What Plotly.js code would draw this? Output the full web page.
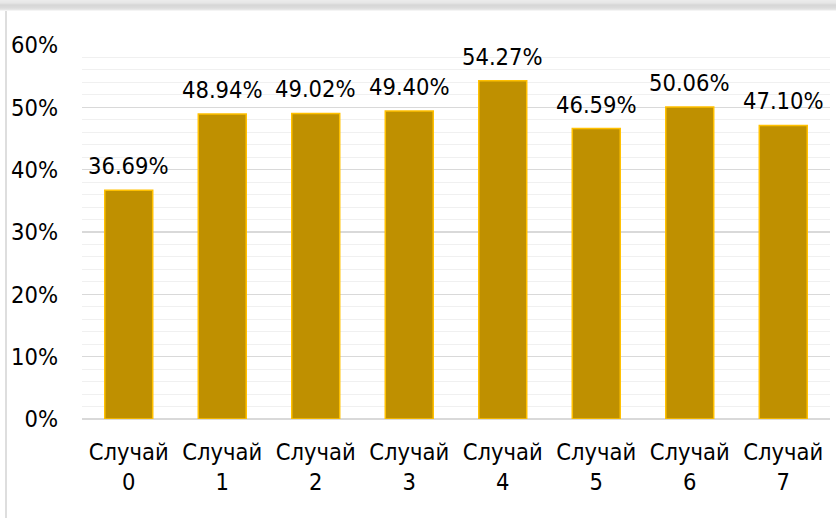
<!DOCTYPE html>
<html>
<head>
<meta charset="utf-8">
<script src="https://cdn.plot.ly/plotly-3.0.1.min.js"></script>
<style>
  html, body { margin: 0; padding: 0; background: #ffffff; }
  #wrap { position: relative; width: 836px; height: 518px; overflow: hidden; background: #ffffff; }
  #topshade { position: absolute; left: 0; top: 0; width: 836px; height: 11px;
    background: linear-gradient(to bottom, #ececec 0px, #e6e6e6 3px, #d6d6d6 5px, #dcdcdc 8px, #e9e9e9 10px, #ffffff 11px); }
  #leftline { position: absolute; left: 5px; top: 11px; width: 2px; height: 507px; background: #dedede; }
  #chart { position: absolute; left: 0; top: 0; width: 836px; height: 518px; }
</style>
</head>
<body>
<div id="wrap">
  <div id="topshade"></div>
  <div id="leftline"></div>
  <div id="chart"></div>
</div>
<script>
const categories = ["Случай<br>0", "Случай<br>1", "Случай<br>2", "Случай<br>3",
                    "Случай<br>4", "Случай<br>5", "Случай<br>6", "Случай<br>7"];
const values = [36.69, 48.94, 49.02, 49.40, 54.27, 46.59, 50.06, 47.10];
const yTickVals = [0, 10, 20, 30, 40, 50, 60];
const yTickText = ["0%", "10%", "20%", "30%", "40%", "50%", "60%"];

const FONT = "DejaVu Sans Condensed, DejaVu Sans, sans-serif";

const trace = {
  type: "bar",
  x: categories,
  y: values,
  marker: { color: "#BF9000", line: { color: "#FFC000", width: 1.5 } },
  hoverinfo: "none"
};

const annotations = values.map((v, i) => ({
  x: categories[i], y: v, xref: "x", yref: "y",
  text: v.toFixed(2) + "%",
  showarrow: false, yanchor: "bottom", yshift: 8, borderpad: 1,
  font: { family: FONT, size: 23.5, color: "#000000" }
}));

const layout = {
  width: 836, height: 518,
  margin: { l: 82, r: 6, t: 45, b: 99 },
  paper_bgcolor: "rgba(0,0,0,0)",
  plot_bgcolor: "rgba(0,0,0,0)",
  showlegend: false,
  bargap: 0.487,
  font: { family: FONT, size: 23.5, color: "#000000" },
  xaxis: {
    type: "category",
    showgrid: false, zeroline: false, showline: false, ticks: "",
    ticklabelstandoff: 16,
    tickfont: { family: FONT, size: 23.5, color: "#000000" }
  },
  yaxis: {
    range: [0, 60],
    tickmode: "array", tickvals: yTickVals, ticktext: yTickText,
    showgrid: true, gridcolor: "#d9d9d9", gridwidth: 1.3,
    minor: { dtick: 2, showgrid: true, gridcolor: "#f0f0f0", gridwidth: 1 },
    zeroline: true, zerolinecolor: "#d9d9d9", zerolinewidth: 1.3,
    showline: false, ticks: "",
    ticklabelstandoff: 23,
    tickfont: { family: FONT, size: 23.5, color: "#000000" }
  },
  annotations: annotations
};

Plotly.newPlot("chart", [trace], layout, { displayModeBar: false, staticPlot: true });
</script>
</body>
</html>
